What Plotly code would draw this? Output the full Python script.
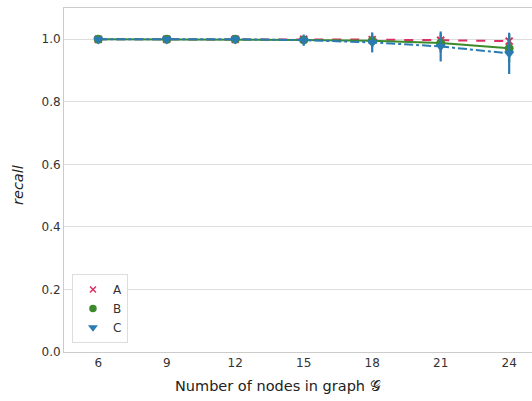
import plotly.graph_objects as go

nodes = [6, 9, 12, 15, 18, 21, 24]
tick_labels = ["6", "9", "12", "15", "18", "21", "24"]
recall_a = [1.0, 1.0, 1.0, 1.0, 0.999, 0.997, 0.994]
recall_b = [1.0, 1.0, 1.0, 0.998, 0.995, 0.988, 0.971]
recall_c = [1.0, 1.0, 1.0, 0.997, 0.990, 0.977, 0.955]
err_a = [0.0, 0.0, 0.002, 0.004, 0.006, 0.008, 0.012]
err_b = [0.0, 0.0, 0.006, 0.010, 0.020, 0.030, 0.045]
err_c = [0.004, 0.004, 0.012, 0.018, 0.032, 0.048, 0.066]
names = ["A", "B", "C"]
colors = ["#dc2f63", "#3b8a2b", "#2b7bb3"]
symbols = ["x-thin", "circle", "triangle-down"]
dashes = ["dash", "solid", "dashdot"]

fig = go.Figure()
series = [recall_a, recall_b, recall_c]
errs = [err_a, err_b, err_c]
for name, ys, es, col, sym, dsh in zip(names, series, errs, colors, symbols, dashes):
    fig.add_trace(go.Scatter(
        x=nodes, y=ys, mode="lines+markers", name=name, showlegend=False,
        line=dict(color=col, width=2, dash=dsh),
        marker=dict(color=col, symbol=sym, size=7, line=dict(color=col, width=2)),
        error_y=dict(type="data", array=es, color=col, thickness=2.2, width=0),
    ))
for name, col, sym in zip(names, colors, symbols):
    fig.add_trace(go.Scatter(
        x=[None], y=[None], mode="markers", name=name,
        marker=dict(color=col, symbol=sym, size=6, line=dict(color=col, width=1.5)),
    ))

font = "DejaVu Sans, sans-serif"
fig.update_layout(
    width=532, height=401,
    margin=dict(l=64, r=0, t=8, b=49),
    plot_bgcolor="white", paper_bgcolor="white",
    font=dict(family=font, size=12, color="#333333"),
    xaxis=dict(
        range=[4.5, 25.0], tickmode="array", tickvals=nodes, ticktext=tick_labels,
        showgrid=False, zeroline=False, showline=True, linecolor="#cccccc",
        linewidth=1, mirror=True, ticks="", ticklen=0, automargin=False,
    ),
    yaxis=dict(
        range=[0, 1.1], tickmode="array", tickvals=[0, 0.2, 0.4, 0.6, 0.8, 1.0],
        ticktext=["0.0", "0.2", "0.4", "0.6", "0.8", "1.0"],
        showgrid=True, gridcolor="#dddddd", gridwidth=1, zeroline=False,
        showline=True, linecolor="#cccccc", linewidth=1, ticks="", automargin=False,
    ),
    legend=dict(
        x=0.017, y=0.026, xanchor="left", yanchor="bottom",
        bgcolor="white", bordercolor="#dddddd", borderwidth=1,
        font=dict(size=12, family=font, color="#333333"),
        itemwidth=30, tracegroupgap=0,
    ),
    annotations=[
        dict(text="Number of nodes in graph 𝒢", xref="paper", yref="paper",
             x=(278 - 64) / 468, y=-34 / 344, xanchor="center", yanchor="middle",
             showarrow=False, font=dict(size=14.5, family=font, color="#222222")),
        dict(text="<i>recall</i>", xref="paper", yref="paper",
             x=-46 / 468, y=(352 - 185) / 344, xanchor="center", yanchor="middle",
             textangle=-90, showarrow=False,
             font=dict(size=14.5, family=font, color="#222222")),
    ],
)

fig.write_html("out.html", post_script="document.body.style.margin='0';",
               config={"displayModeBar": False})
